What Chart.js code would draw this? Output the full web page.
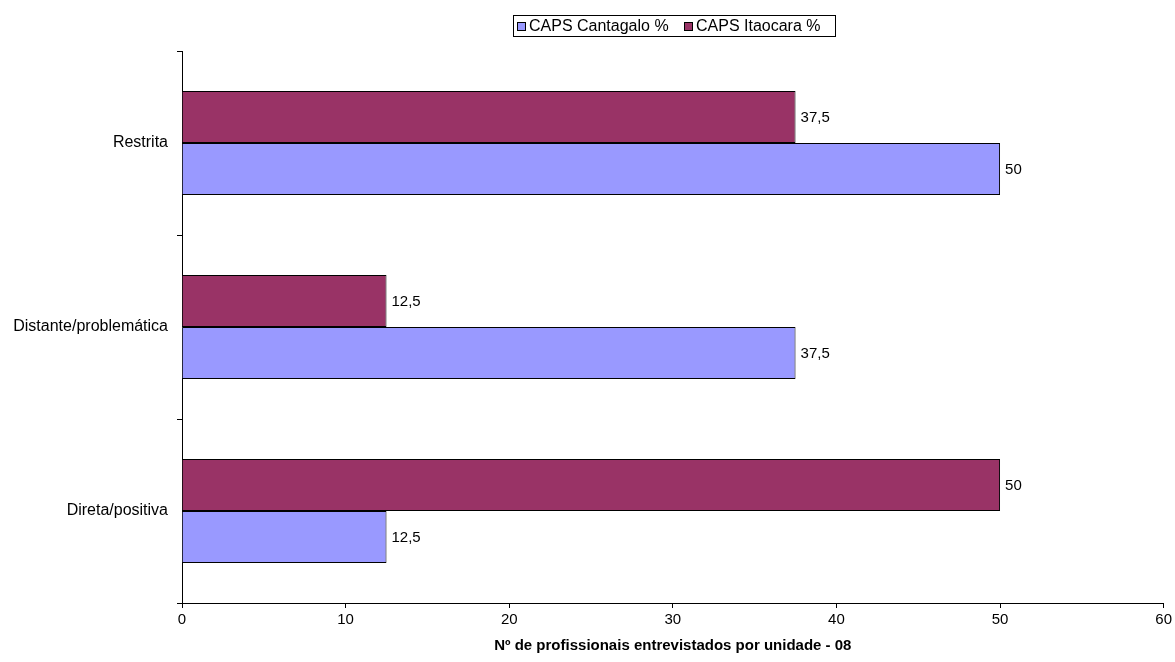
<!DOCTYPE html>
<html>
<head>
<meta charset="utf-8">
<script src="https://cdn.jsdelivr.net/npm/chart.js@4/dist/chart.umd.min.js"></script>
<style>
  body { margin: 0; background: #fff; }
  #wrap { width: 1175px; height: 662px; }
</style>
</head>
<body>
<div id="wrap"><canvas id="myChart"></canvas></div>
<script>
// categories, top to bottom
const categories = ['Restrita', 'Distante/problemática', 'Direta/positiva'];
const cantagaloValues = [50, 37.5, 12.5];
const itaocaraValues = [37.5, 12.5, 50];
const xTicks = [0, 10, 20, 30, 40, 50, 60];
const axisTitle = 'Nº de profissionais entrevistados por unidade - 08';

const FONT = "'Liberation Sans', Arial, sans-serif";

function fmt(v) {
  return String(v).replace('.', ',');
}

// value labels at the end of each bar
const barLabels = {
  id: 'barLabels',
  afterDatasetsDraw(chart) {
    const ctx = chart.ctx;
    ctx.save();
    ctx.font = '15px ' + FONT;
    ctx.fillStyle = '#000';
    ctx.textBaseline = 'middle';
    ctx.textAlign = 'left';
    chart.data.datasets.forEach((ds, i) => {
      chart.getDatasetMeta(i).data.forEach((bar, j) => {
        ctx.fillText(fmt(ds.data[j]), bar.x + 5, bar.y + 1);
      });
    });
    ctx.restore();
  }
};

// boxed legend like the original (Cantagalo first)
const boxLegend = {
  id: 'boxLegend',
  afterDraw(chart) {
    const ctx = chart.ctx;
    ctx.save();
    ctx.font = '16px ' + FONT;
    ctx.strokeStyle = '#000';
    ctx.lineWidth = 1;
    ctx.strokeRect(513.5, 15.5, 322, 21);
    const items = [{ ds: 1, box: 517, text: 529 }, { ds: 0, box: 684, text: 696 }];
    ctx.textBaseline = 'middle';
    items.forEach(it => {
      const ds = chart.data.datasets[it.ds];
      ctx.fillStyle = ds.backgroundColor;
      ctx.fillRect(it.box, 22, 9, 9);
      ctx.strokeRect(it.box + 0.5, 22.5, 8, 8);
      ctx.fillStyle = '#000';
      ctx.fillText(ds.label, it.text, 27);
    });
    ctx.restore();
  }
};

const ctx = document.getElementById('myChart').getContext('2d');
new Chart(ctx, {
  type: 'bar',
  data: {
    labels: categories,
    datasets: [
      {
        label: 'CAPS Itaocara %',
        data: itaocaraValues,
        backgroundColor: '#993366',
        borderColor: '#000',
        borderWidth: 1
      },
      {
        label: 'CAPS Cantagalo %',
        data: cantagaloValues,
        backgroundColor: '#9999FF',
        borderColor: '#000',
        borderWidth: 1
      }
    ]
  },
  options: {
    indexAxis: 'y',
    responsive: true,
    maintainAspectRatio: false,
    animation: false,
    categoryPercentage: 104 / 184,
    barPercentage: 1,
    layout: { padding: { top: 51, right: 11, left: 0, bottom: 0 } },
    plugins: {
      legend: { display: false },
      tooltip: { enabled: false }
    },
    scales: {
      x: {
        min: 0,
        max: 60,
        afterBuildTicks: axis => { axis.ticks = xTicks.map(v => ({ value: v })); },
        ticks: { color: '#000', font: { family: FONT, size: 15 }, padding: 3, maxRotation: 0 },
        grid: { drawOnChartArea: false, tickLength: 5, color: '#000' },
        border: { color: '#000', width: 1 },
        title: {
          display: true,
          text: axisTitle,
          color: '#000',
          font: { family: FONT, size: 15, weight: 'bold' },
          padding: { top: 4, bottom: 7 }
        },
        afterFit: axis => { axis.height = 59; }
      },
      y: {
        ticks: { color: '#000', font: { family: FONT, size: 16 }, padding: 9 },
        grid: { drawOnChartArea: false, tickLength: 5, color: '#000', offset: true },
        border: { color: '#000', width: 1 },
        afterFit: axis => { axis.width = 182; }
      }
    }
  },
  plugins: [barLabels, boxLegend]
});
</script>
</body>
</html>
